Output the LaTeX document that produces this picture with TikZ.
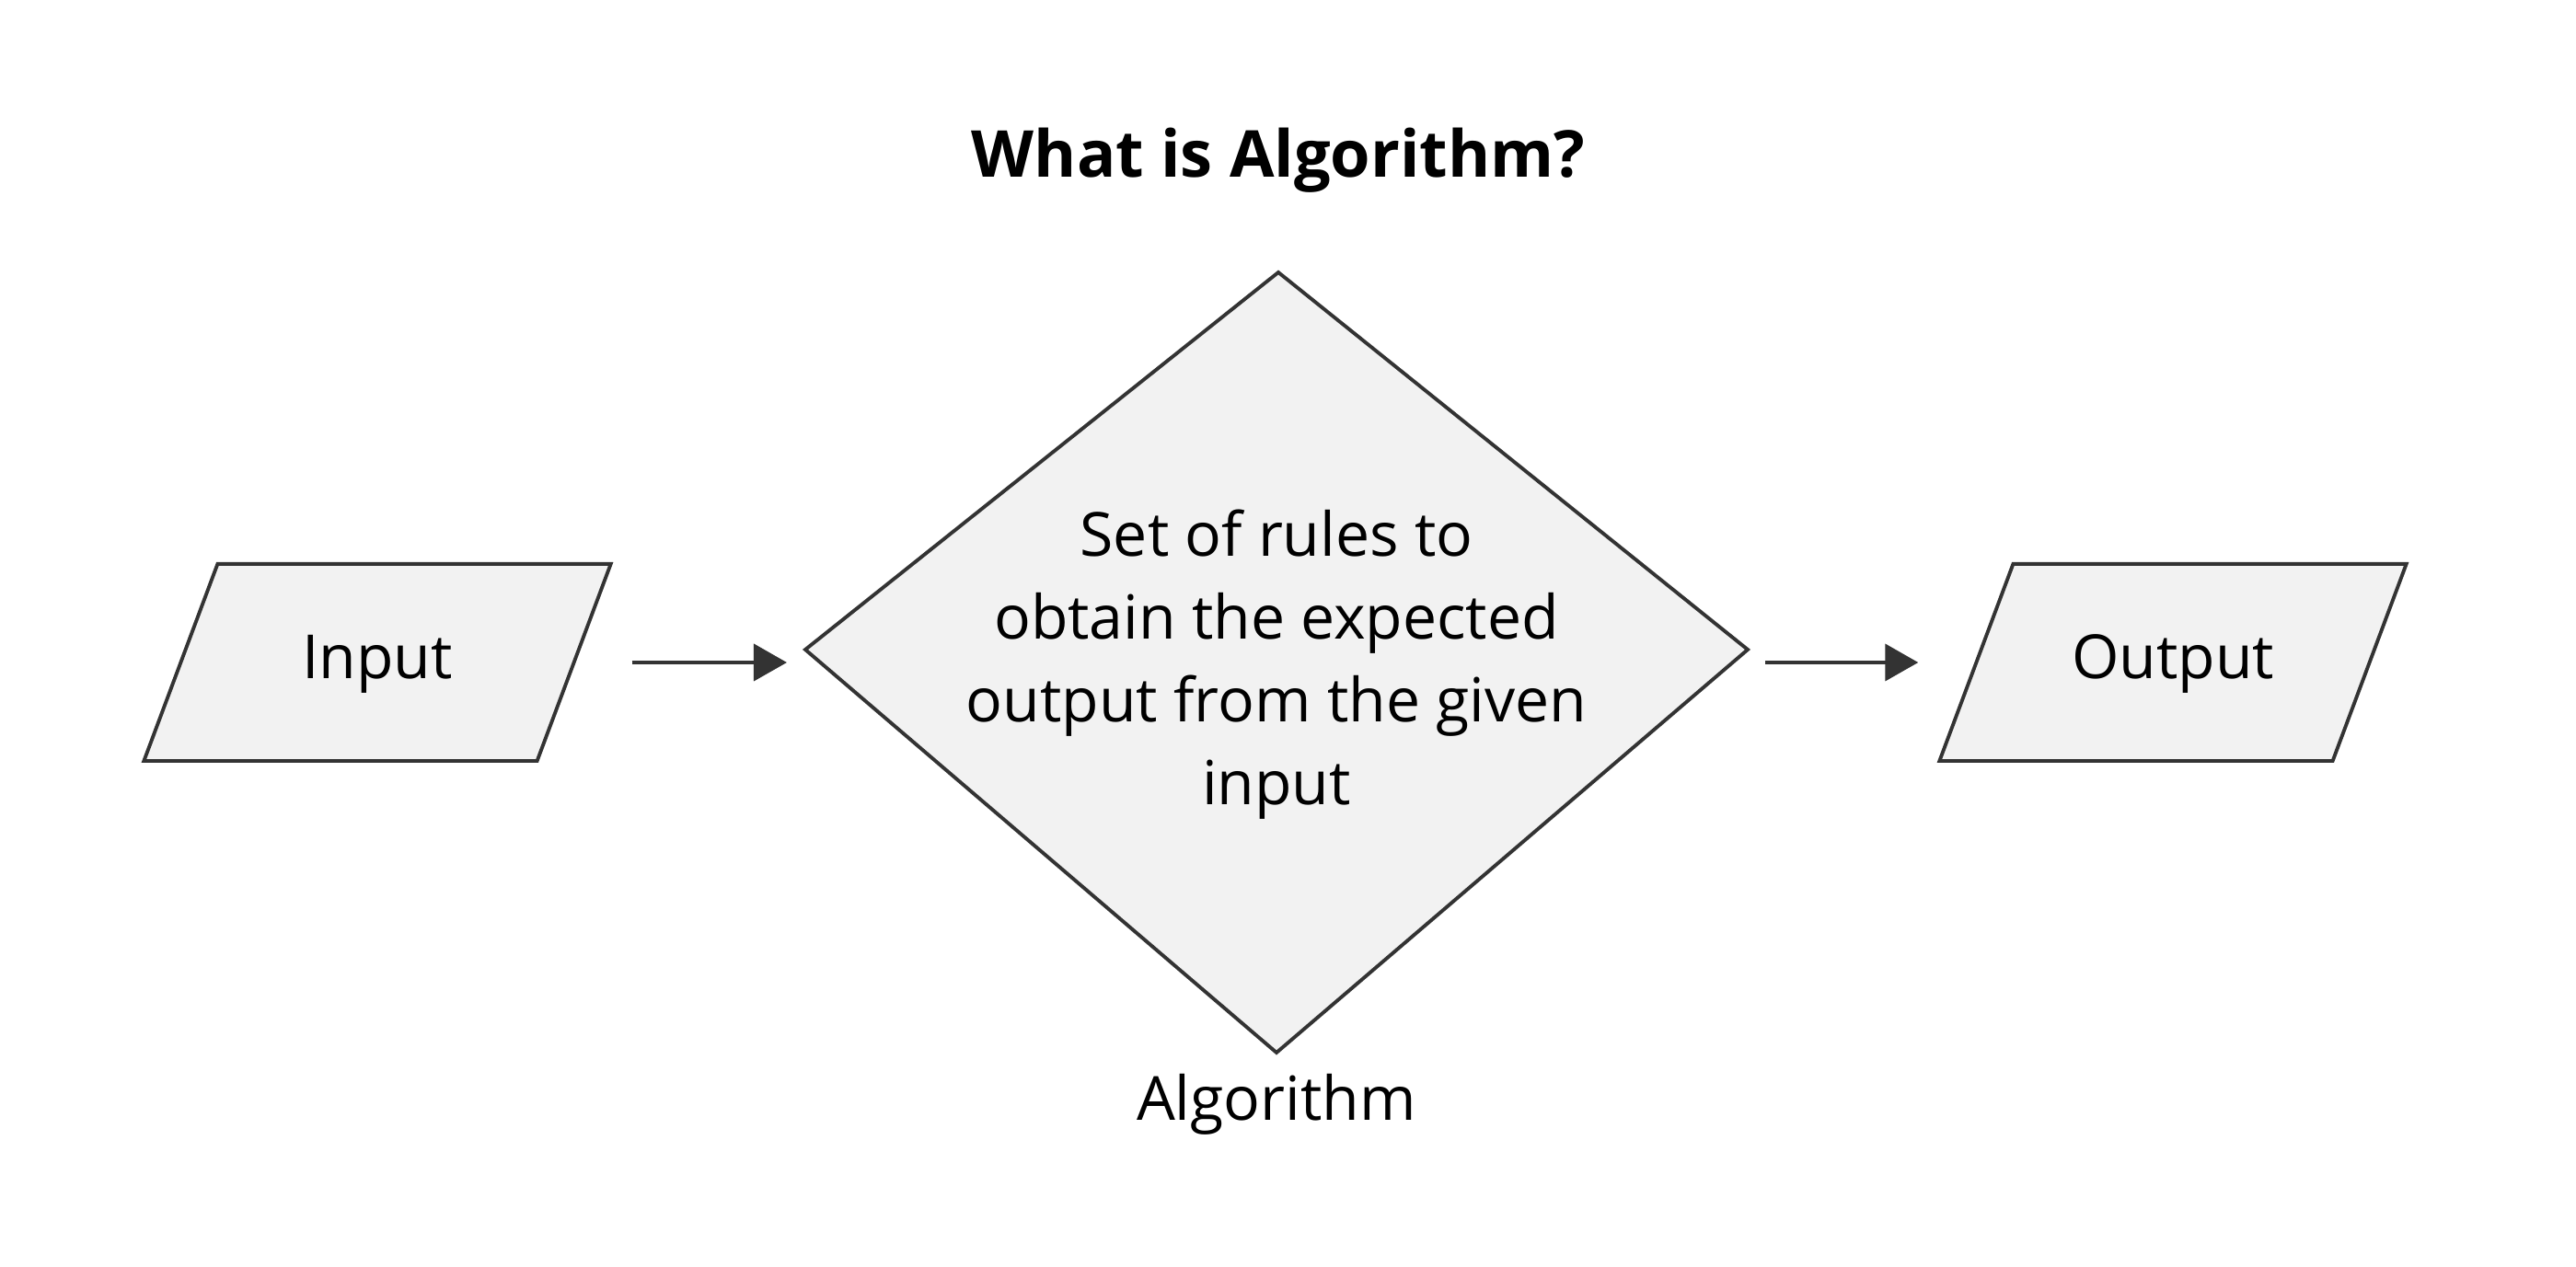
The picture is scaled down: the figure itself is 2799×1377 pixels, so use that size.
\documentclass[tikz,border=0pt]{standalone}
\usepackage{fontspec}
\setmainfont{Open Sans}
\usetikzlibrary{arrows.meta, positioning, shapes.geometric}
\definecolor{boxfill}{HTML}{F2F2F2}
\definecolor{boxline}{HTML}{333333}

\begin{document}
\begin{tikzpicture}[x=0.01cm, y=-0.01cm,
    iobox/.style={trapezium, trapezium left angle=69.5, trapezium right angle=110.5,
        trapezium stretches body, text height=0.5cm, text depth=0.16cm, inner ysep=0.74cm,
        minimum width=5.07cm, minimum height=2.14cm,
        draw=boxline, fill=boxfill, line width=1.1pt, font=\fontsize{18.8}{25.6}\selectfont},
    flow/.style={-{Triangle[length=0.36cm, width=0.40cm]}, draw=boxline, line width=1.1pt},
    plaintext/.style={font=\fontsize{18.8}{25.6}\selectfont}]
    \useasboundingbox (0,0) rectangle (2799,1377);

    \node[anchor=base, font=\fontsize{20}{24}\selectfont\bfseries] (title) at (1389,193) {What is Algorithm?};

    \node[iobox] (input) at (410,720) {Input};
    \node[iobox] (output) at (2361,720) {Output};

    % decision diamond
    \coordinate (dtop) at (1389,296);
    \coordinate (dright) at (1899,706);
    \coordinate (dbottom) at (1387,1144);
    \coordinate (dleft) at (875,706);
    \draw[draw=boxline, fill=boxfill, line width=1.1pt] (dtop) -- (dright) -- (dbottom) -- (dleft) -- cycle;
    \node[plaintext, align=center] (rules) at (1387,722) {Set of rules to\\obtain the expected\\output from the given\\input};
    \node[plaintext, anchor=base] (algo) at (1387,1218) {Algorithm};

    \draw[flow, shorten <=0.61cm, shorten >=0.20cm] (input.east) -- (input.east -| dleft);
    \draw[flow, shorten <=0.19cm, shorten >=0.61cm] (output.west -| dright) -- (output.west);
\end{tikzpicture}
\end{document}
